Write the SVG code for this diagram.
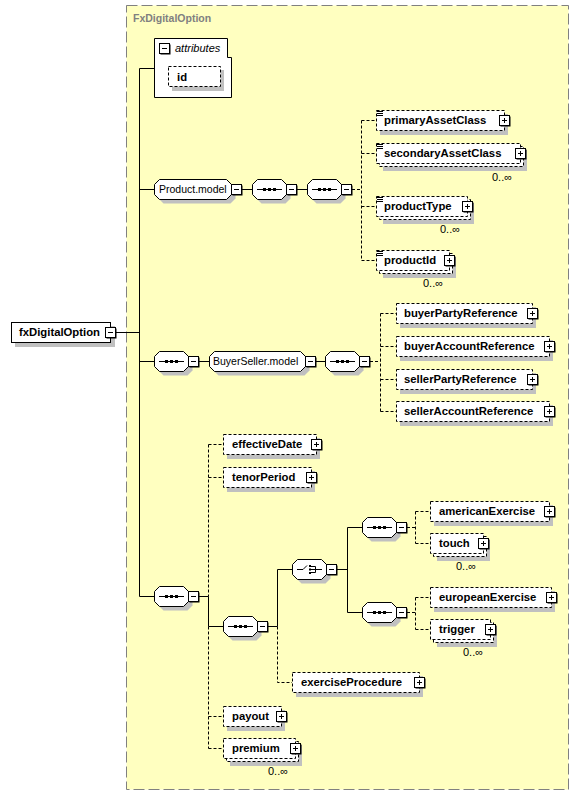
<svg xmlns="http://www.w3.org/2000/svg" xmlns:xlink="http://www.w3.org/1999/xlink" width="579" height="796" viewBox="0 0 579 796">
<style>
.bg{fill:#ffffc0;stroke:#808080;stroke-dasharray:11,4}
.sh{fill:#c0c0c0;stroke:none}
.el{fill:#fff;stroke:#000}
.opt{fill:#fff;stroke:#000;stroke-dasharray:3,2}
.ln{fill:none;stroke:#000}
.dl{fill:none;stroke:#000;stroke-dasharray:3,2}
text{font-family:"Liberation Sans",Arial,sans-serif}
.b{font-size:11.3px;font-weight:bold;fill:#000}
.n{font-size:10.5px;fill:#000}
.m{font-size:11px;fill:#000}
.ti{font-size:10.5px;font-weight:bold;fill:#808080}
.it{font-size:11px;font-style:italic;fill:#000}
</style>
<defs>
<g id="minus">
<rect x="1.5" y="1.5" width="10" height="10" fill="#000"/>
<rect x="0.5" y="0.5" width="10" height="10" fill="#fff" stroke="#000"/>
<line x1="3" y1="5.5" x2="8" y2="5.5" stroke="#000"/>
</g>
<g id="plus">
<rect x="1.5" y="1.5" width="10" height="10" fill="#000"/>
<rect x="0.5" y="0.5" width="10" height="10" fill="#fff" stroke="#000"/>
<line x1="3" y1="5.5" x2="8" y2="5.5" stroke="#000"/>
<line x1="5.5" y1="3" x2="5.5" y2="8" stroke="#000"/>
</g>
<polygon id="oct34" points="5.5,0.5 29.5,0.5 34.5,5.5 34.5,15.5 29.5,20.5 5.5,20.5 0.5,15.5 0.5,5.5"/>
<g id="seq">
<use xlink:href="#oct34" href="#oct34" x="4" y="4" class="sh"/>
<use xlink:href="#oct34" href="#oct34" class="el"/>
<line x1="5" y1="10.5" x2="30" y2="10.5" stroke="#000"/>
<rect x="11" y="9" width="3" height="3" fill="#000"/>
<rect x="16" y="9" width="3" height="3" fill="#000"/>
<rect x="21" y="9" width="3" height="3" fill="#000"/>
<use xlink:href="#minus" href="#minus" x="34" y="5"/>
</g>
<g id="choice">
<use xlink:href="#oct34" href="#oct34" x="4" y="4" class="sh"/>
<use xlink:href="#oct34" href="#oct34" class="el"/>
<path d="M5,10.5 H11 L15,6.5 M19,7.5 H23.5 V13.5 H19 M19,10.5 H30" fill="none" stroke="#000"/>
<rect x="17" y="6" width="2" height="2" fill="#000"/>
<rect x="17" y="9.5" width="2" height="2" fill="#000"/>
<rect x="17" y="13" width="2" height="2" fill="#000"/>
<use xlink:href="#minus" href="#minus" x="34" y="5"/>
</g>
<path id="simple" d="M1,1.5 H7 M1,3.5 H7 M1,5.5 H7" stroke="#000" fill="none"/>
</defs>

<rect class="bg" x="126.5" y="5.5" width="442" height="784"/>
<text class="ti" x="133" y="22">FxDigitalOption</text>

<g id="connectors">
<path class="ln" d="M116,332.5 H139.5 M139.5,68.5 V596.5 M139.5,68.5 H154 M139.5,189.5 H154 M242,189.5 H252 M297,189.5 H307 M139.5,361.5 H154 M199,361.5 H209 M316,361.5 H325 M139.5,596.5 H154 M199,596.5 H208.5 M208.5,596.5 V626.5 H223 M268,626.5 H277.5 M277.5,569.5 V626.5 M277.5,569.5 H292 M337,569.5 H347.5 M347.5,527.5 V612.5 M347.5,527.5 H362 M347.5,612.5 H362"/>
<path class="dl" d="M352,189.5 H361.5 M361.5,120.5 V260.5 M361.5,120.5 H376 M361.5,153.5 H376 M361.5,206.5 H376 M361.5,260.5 H376 M370,361.5 H380.5 M380.5,313.5 V411.5 M380.5,313.5 H396 M380.5,346.5 H396 M380.5,379.5 H396 M380.5,411.5 H396 M208.5,444.5 V596.5 M208.5,444.5 H223 M208.5,477.5 H223 M208.5,626.5 V748.5 M208.5,716.5 H223 M208.5,748.5 H223 M277.5,626.5 V682.5 H292 M407,527.5 H415.5 M415.5,511.5 V543.5 M415.5,511.5 H430 M415.5,543.5 H430 M407,612.5 H415.5 M415.5,597.5 V629.5 M415.5,597.5 H430 M415.5,629.5 H430"/>
</g>

<g id="fxDigitalOption">
<rect class="sh" x="15" y="326" width="100" height="21"/>
<rect class="el" x="11.5" y="322.5" width="99" height="20"/>
<text class="b" x="19" y="336">fxDigitalOption</text>
<use xlink:href="#minus" href="#minus" x="105" y="327"/>
</g>

<g id="attributes">
<path class="el" d="M154.5,38.5 H227.5 V57.5 H231.5 V97.5 H154.5 Z"/>
<use xlink:href="#minus" href="#minus" x="159" y="43"/>
<text class="it" x="175" y="52">attributes</text>
</g>
<g id="id">
<rect class="sh" x="172" y="70" width="52" height="21"/>
<rect class="opt" x="168.5" y="66.5" width="52" height="20"/>
<text class="b" x="177" y="81">id</text>
</g>

<g id="Product.model">
<polygon class="sh" transform="translate(158,183)" points="5.5,0.5 72.5,0.5 77.5,5.5 77.5,15.5 72.5,20.5 5.5,20.5 0.5,15.5 0.5,5.5"/>
<polygon class="el" transform="translate(154,179)" points="5.5,0.5 72.5,0.5 77.5,5.5 77.5,15.5 72.5,20.5 5.5,20.5 0.5,15.5 0.5,5.5"/>
<text class="n" x="159" y="193">Product.model</text>
<use xlink:href="#minus" href="#minus" x="231" y="184"/>
</g>
<g id="seq-product-1"><use xlink:href="#seq" href="#seq" x="252" y="179"/></g>
<g id="seq-product-2"><use xlink:href="#seq" href="#seq" x="307" y="179"/></g>

<g id="primaryAssetClass">
<rect class="sh" x="380" y="114" width="128" height="21"/>
<rect class="opt" x="376.5" y="110.5" width="128" height="20"/>
<use xlink:href="#simple" href="#simple" x="376" y="110"/>
<text class="b" x="384" y="124">primaryAssetClass</text>
<use xlink:href="#plus" href="#plus" x="499" y="115"/>
</g>
<g id="secondaryAssetClass">
<rect class="sh" x="383" y="150" width="144" height="21"/>
<rect class="opt" x="379.5" y="146.5" width="144" height="20"/>
<rect class="opt" x="376.5" y="143.5" width="144" height="20"/>
<use xlink:href="#simple" href="#simple" x="376" y="143"/>
<text class="b" x="384" y="157">secondaryAssetClass</text>
<use xlink:href="#plus" href="#plus" x="515" y="148"/>
<text class="m" x="492" y="181">0..∞</text>
</g>
<g id="productType">
<rect class="sh" x="383" y="203" width="91" height="21"/>
<rect class="opt" x="379.5" y="199.5" width="91" height="20"/>
<rect class="opt" x="376.5" y="196.5" width="91" height="20"/>
<use xlink:href="#simple" href="#simple" x="376" y="196"/>
<text class="b" x="384" y="210">productType</text>
<use xlink:href="#plus" href="#plus" x="462" y="201"/>
<text class="m" x="440" y="233">0..∞</text>
</g>
<g id="productId">
<rect class="sh" x="383" y="257" width="73" height="21"/>
<rect class="opt" x="379.5" y="253.5" width="73" height="20"/>
<rect class="opt" x="376.5" y="250.5" width="73" height="20"/>
<use xlink:href="#simple" href="#simple" x="376" y="250"/>
<text class="b" x="384" y="264">productId</text>
<use xlink:href="#plus" href="#plus" x="444" y="255"/>
<text class="m" x="423" y="287">0..∞</text>
</g>

<g id="seq-buyerseller-outer"><use xlink:href="#seq" href="#seq" x="154" y="351"/></g>
<g id="BuyerSeller.model">
<polygon class="sh" transform="translate(213,355)" points="5.5,0.5 91.5,0.5 96.5,5.5 96.5,15.5 91.5,20.5 5.5,20.5 0.5,15.5 0.5,5.5"/>
<polygon class="el" transform="translate(209,351)" points="5.5,0.5 91.5,0.5 96.5,5.5 96.5,15.5 91.5,20.5 5.5,20.5 0.5,15.5 0.5,5.5"/>
<text class="n" x="213" y="365">BuyerSeller.model</text>
<use xlink:href="#minus" href="#minus" x="305" y="356"/>
</g>
<g id="seq-buyerseller-inner"><use xlink:href="#seq" href="#seq" x="325" y="351"/></g>

<g id="buyerPartyReference">
<rect class="sh" x="400" y="307" width="136" height="21"/>
<rect class="opt" x="396.5" y="303.5" width="136" height="20"/>
<text class="b" x="404" y="317">buyerPartyReference</text>
<use xlink:href="#plus" href="#plus" x="527" y="308"/>
</g>
<g id="buyerAccountReference">
<rect class="sh" x="400" y="340" width="153" height="21"/>
<rect class="opt" x="396.5" y="336.5" width="153" height="20"/>
<text class="b" x="404" y="350">buyerAccountReference</text>
<use xlink:href="#plus" href="#plus" x="544" y="341"/>
</g>
<g id="sellerPartyReference">
<rect class="sh" x="400" y="373" width="136" height="21"/>
<rect class="opt" x="396.5" y="369.5" width="136" height="20"/>
<text class="b" x="404" y="383">sellerPartyReference</text>
<use xlink:href="#plus" href="#plus" x="527" y="374"/>
</g>
<g id="sellerAccountReference">
<rect class="sh" x="400" y="405" width="153" height="21"/>
<rect class="opt" x="396.5" y="401.5" width="153" height="20"/>
<text class="b" x="404" y="415">sellerAccountReference</text>
<use xlink:href="#plus" href="#plus" x="544" y="406"/>
</g>

<g id="seq-main"><use xlink:href="#seq" href="#seq" x="154" y="586"/></g>
<g id="effectiveDate">
<rect class="sh" x="227" y="438" width="93" height="21"/>
<rect class="opt" x="223.5" y="434.5" width="93" height="20"/>
<text class="b" x="232" y="448">effectiveDate</text>
<use xlink:href="#plus" href="#plus" x="311" y="439"/>
</g>
<g id="tenorPeriod">
<rect class="sh" x="227" y="471" width="88" height="21"/>
<rect class="opt" x="223.5" y="467.5" width="88" height="20"/>
<text class="b" x="232" y="481">tenorPeriod</text>
<use xlink:href="#plus" href="#plus" x="306" y="472"/>
</g>
<g id="seq-exercise"><use xlink:href="#seq" href="#seq" x="223" y="616"/></g>
<g id="choice-exercise"><use xlink:href="#choice" href="#choice" x="292" y="559"/></g>
<g id="seq-american"><use xlink:href="#seq" href="#seq" x="362" y="517"/></g>
<g id="seq-european"><use xlink:href="#seq" href="#seq" x="362" y="602"/></g>

<g id="americanExercise">
<rect class="sh" x="434" y="505" width="119" height="21"/>
<rect class="opt" x="430.5" y="501.5" width="119" height="20"/>
<text class="b" x="439" y="515">americanExercise</text>
<use xlink:href="#plus" href="#plus" x="544" y="506"/>
</g>
<g id="touch">
<rect class="sh" x="437" y="540" width="53" height="21"/>
<rect class="opt" x="433.5" y="536.5" width="53" height="20"/>
<rect class="opt" x="430.5" y="533.5" width="53" height="20"/>
<text class="b" x="439" y="547">touch</text>
<use xlink:href="#plus" href="#plus" x="478" y="538"/>
<text class="m" x="456" y="570">0..∞</text>
</g>
<g id="europeanExercise">
<rect class="sh" x="434" y="591" width="121" height="21"/>
<rect class="opt" x="430.5" y="587.5" width="121" height="20"/>
<text class="b" x="439" y="601">europeanExercise</text>
<use xlink:href="#plus" href="#plus" x="546" y="592"/>
</g>
<g id="trigger">
<rect class="sh" x="437" y="626" width="60" height="21"/>
<rect class="opt" x="433.5" y="622.5" width="60" height="20"/>
<rect class="opt" x="430.5" y="619.5" width="60" height="20"/>
<text class="b" x="439" y="633">trigger</text>
<use xlink:href="#plus" href="#plus" x="485" y="624"/>
<text class="m" x="463" y="656">0..∞</text>
</g>
<g id="exerciseProcedure">
<rect class="sh" x="296" y="676" width="127" height="21"/>
<rect class="opt" x="292.5" y="672.5" width="127" height="20"/>
<text class="b" x="301" y="686">exerciseProcedure</text>
<use xlink:href="#plus" href="#plus" x="414" y="677"/>
</g>
<g id="payout">
<rect class="sh" x="227" y="710" width="58" height="21"/>
<rect class="opt" x="223.5" y="706.5" width="58" height="20"/>
<text class="b" x="232" y="720">payout</text>
<use xlink:href="#plus" href="#plus" x="276" y="711"/>
</g>
<g id="premium">
<rect class="sh" x="230" y="745" width="72" height="21"/>
<rect class="opt" x="226.5" y="741.5" width="72" height="20"/>
<rect class="opt" x="223.5" y="738.5" width="72" height="20"/>
<text class="b" x="232" y="752">premium</text>
<use xlink:href="#plus" href="#plus" x="290" y="743"/>
<text class="m" x="268" y="775">0..∞</text>
</g>
</svg>
